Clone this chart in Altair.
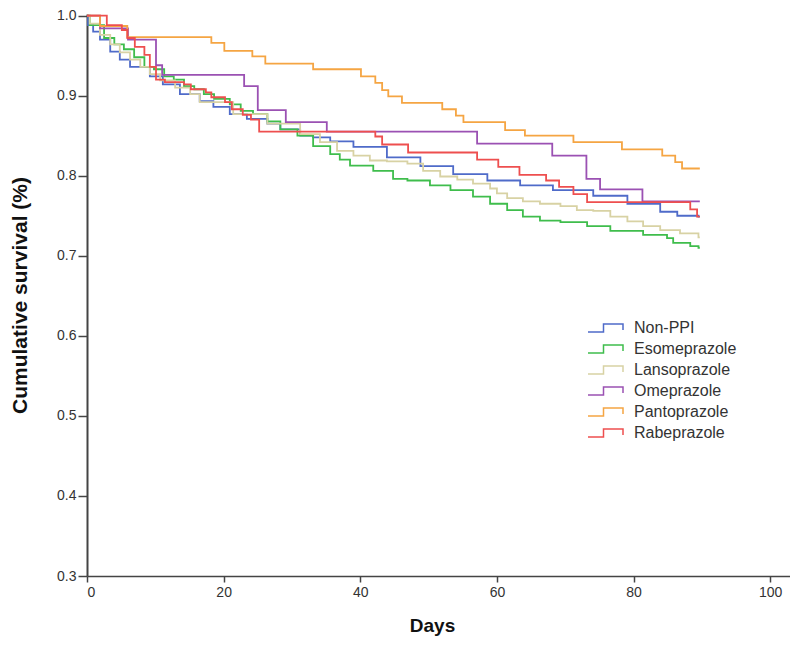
import altair as alt
import pandas as pd

groups = ["Non-PPI", "Esomeprazole", "Lansoprazole", "Omeprazole", "Pantoprazole", "Rabeprazole"]
colors = ["#4f6bc9", "#3fbd4c", "#d8d2a4", "#9b51b3", "#f5a543", "#ee4f4f"]

nonppi_days = [0, 0.15, 0.9, 1.9, 3.4, 4.8, 6.3, 9.2, 11.1, 13.6, 16.5, 18.5, 20.9, 23.4, 26.4, 28.3,
               31.2, 33.1, 35.6, 39.0, 43.9, 48.8, 53.6, 58.6, 63.4, 68.2, 74.1, 79.1, 83.9, 86.4, 89.5, 89.7]
nonppi_surv = [1.0, 0.988, 0.980, 0.970, 0.955, 0.945, 0.936, 0.924, 0.914, 0.902, 0.893, 0.886, 0.877, 0.871,
               0.865, 0.858, 0.850, 0.848, 0.843, 0.836, 0.823, 0.812, 0.802, 0.794, 0.788, 0.782, 0.775, 0.765,
               0.755, 0.750, 0.749, 0.749]

eso_days = [0, 0.4, 2.5, 4.0, 5.4, 6.9, 8.4, 9.8, 11.3, 12.7, 14.2, 15.7, 17.1, 18.6, 20.9, 22.5, 24.3, 26.4,
            28.3, 30.8, 33.1, 35.6, 37.0, 38.5, 41.9, 44.8, 46.9, 50.2, 53.2, 56.5, 59.0, 61.5, 63.8, 66.3, 69.3,
            73.2, 76.6, 81.4, 84.9, 85.8, 88.3, 89.5, 89.7]
eso_surv = [1.0, 0.988, 0.972, 0.964, 0.958, 0.948, 0.936, 0.933, 0.924, 0.920, 0.912, 0.908, 0.902, 0.896,
            0.889, 0.881, 0.877, 0.868, 0.858, 0.850, 0.837, 0.827, 0.820, 0.8125, 0.806, 0.796, 0.794, 0.788,
            0.782, 0.774, 0.765, 0.757, 0.749, 0.744, 0.742, 0.737, 0.731, 0.726, 0.722, 0.716, 0.712, 0.710, 0.710]

lanso_days = [0, 0.4, 1.9, 3.4, 4.8, 6.3, 7.8, 9.2, 10.7, 12.9, 15.1, 16.5, 21.4, 26.4, 31.2, 34.1, 36.6, 39.0,
              41.4, 43.9, 46.9, 49.2, 51.7, 54.2, 56.5, 59.0, 60.0, 61.5, 63.8, 66.3, 69.3, 71.7, 74.1, 76.6,
              79.1, 81.4, 83.9, 86.8, 89.5, 89.7]
lanso_surv = [1.0, 0.990, 0.976, 0.964, 0.954, 0.945, 0.936, 0.927, 0.919, 0.910, 0.902, 0.892, 0.877, 0.865,
              0.852, 0.842, 0.831, 0.825, 0.819, 0.818, 0.815, 0.806, 0.799, 0.795, 0.790, 0.784, 0.778, 0.772,
              0.768, 0.765, 0.762, 0.757, 0.756, 0.749, 0.743, 0.737, 0.732, 0.728, 0.723, 0.723]

ome_days = [0, 1.9, 6.0, 10.1, 11.0, 23.0, 25.0, 29.1, 35.1, 57.1, 68.1, 73.1, 75.1, 81.3, 89.7]
ome_surv = [1.0, 0.984, 0.970, 0.938, 0.926, 0.912, 0.882, 0.867, 0.855, 0.840, 0.825, 0.796, 0.783, 0.768, 0.768]

panto_days = [0, 1.9, 5.9, 18.2, 20.1, 24.2, 26.1, 33.1, 40.1, 42.2, 43.2, 44.1, 46.1, 52.0, 54.0, 55.1, 61.2,
              64.1, 71.2, 78.3, 84.2, 86.1, 87.1, 89.7]
panto_surv = [1.0, 0.987, 0.973, 0.966, 0.956, 0.949, 0.940, 0.933, 0.924, 0.916, 0.907, 0.899, 0.891, 0.883,
              0.875, 0.867, 0.857, 0.850, 0.842, 0.833, 0.825, 0.817, 0.809, 0.809]

rabe_days = [0, 2.9, 5.1, 5.9, 7.0, 8.4, 9.2, 10.1, 11.4, 14.2, 15.2, 17.4, 18.2, 20.2, 21.2, 22.8, 24.0, 25.2,
             42.2, 43.2, 47.0, 57.1, 60.2, 63.3, 67.2, 69.1, 71.2, 73.2, 88.3, 89.3, 89.7]
rabe_surv = [1.0, 0.988, 0.982, 0.972, 0.961, 0.951, 0.936, 0.920, 0.917, 0.914, 0.908, 0.904, 0.898, 0.892,
             0.883, 0.876, 0.870, 0.855, 0.849, 0.839, 0.829, 0.820, 0.811, 0.801, 0.794, 0.786, 0.777, 0.767,
             0.758, 0.749, 0.749]

x_ticks = [0, 20, 40, 60, 80, 100]
y_ticks = [0.3, 0.4, 0.5, 0.6, 0.7, 0.8, 0.9, 1.0]

series = [
    ("Non-PPI", nonppi_days, nonppi_surv),
    ("Esomeprazole", eso_days, eso_surv),
    ("Lansoprazole", lanso_days, lanso_surv),
    ("Omeprazole", ome_days, ome_surv),
    ("Pantoprazole", panto_days, panto_surv),
    ("Rabeprazole", rabe_days, rabe_surv),
]
rows = []
for i, (name, ds, ss) in enumerate(series):
    for d, s in zip(ds, ss):
        rows.append({"group": name, "day": d, "surv": s, "ord": i})
df = pd.DataFrame(rows)

font = "Liberation Sans"

chart = alt.Chart(df).mark_line(interpolate="step-after", strokeWidth=1.8).encode(
    x=alt.X("day:Q",
            scale=alt.Scale(domain=[0, 102.9], nice=False, zero=False),
            axis=alt.Axis(values=x_ticks, title="Days", grid=False, format="d",
                          labelFontSize=14, labelColor="#333", labelFont=font,
                          tickSize=6, tickColor="#444", tickWidth=1.5,
                          domainColor="#444", domainWidth=1.6,
                          labelPadding=3, titleFontSize=19, titleFont=font,
                          titleFontWeight="bold", titleColor="#111", titlePadding=17,
                          titleX=345)),
    y=alt.Y("surv:Q",
            scale=alt.Scale(domain=[0.3, 1.002], nice=False, zero=False),
            axis=alt.Axis(values=y_ticks, title="Cumulative survival (%)", grid=False, format=".1f",
                          labelFontSize=14, labelColor="#333", labelFont=font,
                          tickSize=9, tickColor="#444", tickWidth=1.5,
                          domainColor="#444", domainWidth=2,
                          labelPadding=2, titleFontSize=21, titleFont=font,
                          titleFontWeight="bold", titleColor="#111", titlePadding=26)),
    color=alt.Color("group:N",
                    scale=alt.Scale(domain=groups, range=colors),
                    legend=alt.Legend(title=None, orient="none", legendX=511, legendY=306,
                                      symbolType="M-3.6,0.8H-0.5V-0.8H3.4V0.4",
                                      symbolSize=100, symbolStrokeWidth=1.5,
                                      symbolFillColor="transparent",
                                      labelFontSize=16, labelColor="#333", labelFont=font,
                                      labelOffset=20, rowPadding=5)),
    order=alt.Order("ord:Q"),
).properties(
    width=703,
    height=562,
    autosize=alt.AutoSizeParams(type="none"),
    padding={"left": 79, "top": 6, "right": 0, "bottom": 61},
).configure_view(stroke=None)

chart.save("out.html", embed_options={"renderer": "svg", "actions": False})
